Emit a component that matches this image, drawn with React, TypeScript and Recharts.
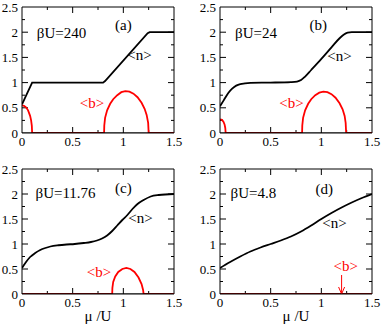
import React from 'react';
import { LineChart, Line, XAxis, YAxis, ReferenceLine, ReferenceDot } from 'recharts';

type Pt = [number, number];

const FONT = 'Liberation Serif';

const X_TICKS = [0, 0.5, 1, 1.5];
const X_MINOR = [0.25, 0.75, 1.25];
const Y_TICKS = [0, 0.5, 1, 1.5, 2, 2.5];
const Y_MINOR = [0.25, 0.75, 1.25, 1.75, 2.25];
const X_TITLE = 'μ /U';
const BASELINE: Pt[] = [[0, 0], [1.5, 0]];

// Panel (a): βU=240
const nA: Pt[] = [[0, 0.57], [0.1, 1.0], [0.8, 1.0], [0.82, 1.03], [1.24, 1.98], [1.26, 2.0], [1.5, 2.0]];
const bA: Pt[] = [
  [0, 0.55], [0.02, 0.54], [0.04, 0.51], [0.06, 0.45], [0.08, 0.34], [0.09, 0.25], [0.097, 0.14], [0.1, 0],
  [0.81, 0], [0.812, 0.15], [0.82, 0.3], [0.84, 0.45], [0.87, 0.58], [0.9, 0.67], [0.94, 0.75], [0.98, 0.81],
  [1.02, 0.83], [1.06, 0.82], [1.1, 0.78], [1.14, 0.71], [1.18, 0.6], [1.21, 0.48], [1.23, 0.36], [1.245, 0.2],
  [1.25, 0], [1.5, 0],
];

// Panel (b): βU=24
const nB: Pt[] = [
  [0, 0.53], [0.04, 0.66], [0.08, 0.79], [0.12, 0.88], [0.16, 0.94], [0.2, 0.97], [0.3, 0.995], [0.5, 1.0],
  [0.7, 1.01], [0.76, 1.02], [0.8, 1.05], [0.84, 1.12], [0.9, 1.25], [1.0, 1.47], [1.1, 1.7], [1.18, 1.88],
  [1.22, 1.95], [1.26, 1.99], [1.3, 2.0], [1.5, 2.0],
];
const bB: Pt[] = [
  [0, 0.27], [0.02, 0.26], [0.035, 0.22], [0.045, 0.17], [0.052, 0.1], [0.056, 0],
  [0.81, 0], [0.812, 0.15], [0.82, 0.3], [0.84, 0.45], [0.87, 0.58], [0.9, 0.67], [0.94, 0.75], [0.98, 0.8],
  [1.02, 0.82], [1.06, 0.81], [1.1, 0.77], [1.14, 0.7], [1.18, 0.59], [1.21, 0.47], [1.23, 0.34], [1.24, 0.2],
  [1.245, 0], [1.5, 0],
];

// Panel (c): βU=11.76
const nC: Pt[] = [
  [0, 0.52], [0.04, 0.64], [0.08, 0.74], [0.13, 0.82], [0.18, 0.88], [0.23, 0.92], [0.28, 0.95], [0.36, 0.975],
  [0.44, 0.99], [0.52, 1.0], [0.61, 1.02], [0.68, 1.04], [0.74, 1.07], [0.79, 1.11], [0.84, 1.17], [0.89, 1.26],
  [0.94, 1.37], [0.99, 1.48], [1.04, 1.58], [1.09, 1.7], [1.14, 1.8], [1.2, 1.88], [1.27, 1.95], [1.35, 1.98],
  [1.5, 2.0],
];
const bC: Pt[] = [
  [0, 0], [0.89, 0], [0.892, 0.12], [0.9, 0.24], [0.92, 0.35], [0.95, 0.44], [0.99, 0.5], [1.03, 0.52],
  [1.07, 0.5], [1.11, 0.44], [1.15, 0.33], [1.18, 0.2], [1.195, 0.08], [1.2, 0], [1.5, 0],
];

// Panel (d): βU=4.8
const nD: Pt[] = [
  [0, 0.52], [0.1, 0.64], [0.2, 0.75], [0.3, 0.85], [0.4, 0.93], [0.5, 1.0], [0.6, 1.07], [0.7, 1.15],
  [0.8, 1.25], [0.9, 1.37], [1.0, 1.5], [1.1, 1.62], [1.2, 1.73], [1.3, 1.83], [1.4, 1.92], [1.5, 2.0],
];
const bD: Pt[] = [[0, 0], [1.5, 0]];
const arrowD = { mu: 1.2, from: 0.38, to: 0.0 };

type Note = { text: string; mu: number; v: number; color: string };

const notesA: Note[] = [
  { text: 'βU=240', mu: 0.39, v: 2.0, color: '#000' },
  { text: '(a)', mu: 1.0, v: 2.14, color: '#000' },
  { text: '<n>', mu: 1.16, v: 1.55, color: '#000' },
  { text: '<b>', mu: 0.69, v: 0.6, color: '#ff0000' },
];
const notesB: Note[] = [
  { text: 'βU=24', mu: 0.355, v: 2.0, color: '#000' },
  { text: '(b)', mu: 0.97, v: 2.14, color: '#000' },
  { text: '<n>', mu: 1.18, v: 1.53, color: '#000' },
  { text: '<b>', mu: 0.705, v: 0.6, color: '#ff0000' },
];
const notesC: Note[] = [
  { text: 'βU=11.76', mu: 0.43, v: 2.02, color: '#000' },
  { text: '(c)', mu: 1.0, v: 2.12, color: '#000' },
  { text: '<n>', mu: 1.17, v: 1.52, color: '#000' },
  { text: '<b>', mu: 0.76, v: 0.44, color: '#ff0000' },
];
const notesD: Note[] = [
  { text: 'βU=4.8', mu: 0.33, v: 2.02, color: '#000' },
  { text: '(d)', mu: 1.03, v: 2.1, color: '#000' },
  { text: '<n>', mu: 1.13, v: 1.42, color: '#000' },
  { text: '<b>', mu: 1.24, v: 0.56, color: '#ff0000' },
];

const toObj = (pts: Pt[]) => pts.map(([x, y]) => ({ x, y }));

const ArrowShape = (p: any) => {
  const { x1, y1, x2, y2 } = p;
  return (
    <g>
      <line x1={x1} y1={y1} x2={x2} y2={y2} stroke="#ff0000" strokeWidth={1} />
      <path d={`M${x2 - 3},${y2 - 7} L${x2},${y2} L${x2 + 3},${y2 - 7}`} stroke="#ff0000" strokeWidth={1} fill="none" />
    </g>
  );
};

const XTick = (p: any) => (
  <text x={p.x} y={p.y} dy="0.71em" textAnchor="middle" fill="#000" fontSize={13} style={{ fontFamily: FONT }}>
    {p.payload.value}
  </text>
);
const YTick = (p: any) => (
  <text x={p.x} y={p.y} dy="0.355em" textAnchor="end" fill="#000" fontSize={13} style={{ fontFamily: FONT }}>
    {p.payload.value}
  </text>
);

const noteContent = (nt: Note) => (p: any) => {
  const vb = p.viewBox || {};
  const cx = vb.x + (vb.width || 0) / 2;
  const cy = vb.y + (vb.height || 0) / 2;
  return (
    <text x={cx} y={cy} dy="0.355em" textAnchor="middle" fill={nt.color} fontSize={15} style={{ fontFamily: FONT }}>
      {nt.text}
    </text>
  );
};

const TitleContent = (p: any) => {
  const vb = p.viewBox || {};
  return (
    <text x={vb.x + vb.width / 2} y={vb.y + vb.height - 6} textAnchor="middle" fill="#000" fontSize={15} style={{ fontFamily: FONT }}>
      {X_TITLE}
    </text>
  );
};

type PanelProps = {
  left: number; top: number; width: number; height: number;
  yw: number; mt: number; mr: number; xh: number;
  n: Pt[]; b: Pt[]; notes: Note[]; title?: boolean; arrow?: typeof arrowD; nType?: 'linear' | 'monotone';
};

const Panel = ({ left, top, width, height, yw, mt, mr, xh, n, b, notes, title, arrow, nType = 'monotone' }: PanelProps) => {
  const plotW = width - yw - mr;
  const plotH = height - mt - xh;
  const xPer = plotW / 1.5;
  const yPer = plotH / 2.5;
  const majX = 6 / yPer, minX = 3 / yPer;
  const majY = 6 / xPer, minY = 3 / xPer;
  const segs: { s: { x: number; y: number }[] }[] = [];
  X_TICKS.slice(1, -1).forEach(t => {
    segs.push({ s: [{ x: t, y: 0 }, { x: t, y: majX }] });
    segs.push({ s: [{ x: t, y: 2.5 }, { x: t, y: 2.5 - majX }] });
  });
  X_MINOR.forEach(t => {
    segs.push({ s: [{ x: t, y: 0 }, { x: t, y: minX }] });
    segs.push({ s: [{ x: t, y: 2.5 }, { x: t, y: 2.5 - minX }] });
  });
  Y_TICKS.slice(1, -1).forEach(t => {
    segs.push({ s: [{ x: 0, y: t }, { x: majY, y: t }] });
    segs.push({ s: [{ x: 1.5, y: t }, { x: 1.5 - majY, y: t }] });
  });
  Y_MINOR.forEach(t => {
    segs.push({ s: [{ x: 0, y: t }, { x: minY, y: t }] });
    segs.push({ s: [{ x: 1.5, y: t }, { x: 1.5 - minY, y: t }] });
  });
  return (
    <div style={{ position: 'absolute', left, top, width, height, fontFamily: FONT }}>
      <LineChart width={width} height={height} margin={{ top: mt, right: mr, bottom: 0, left: 0 }}>
        <XAxis
          type="number" dataKey="x" domain={[0, 1.5]} ticks={X_TICKS} allowDataOverflow
          tickLine={false} tickSize={0} tickMargin={4} height={xh} interval={0}
          axisLine={{ stroke: '#000', strokeWidth: 1 }} tick={<XTick />}
          label={title ? { content: TitleContent } : undefined}
        />
        <YAxis
          type="number" dataKey="y" domain={[0, 2.5]} ticks={Y_TICKS} allowDataOverflow
          tickLine={false} tickSize={0} tickMargin={4} width={yw} interval={0}
          axisLine={{ stroke: '#000', strokeWidth: 1 }} tick={<YTick />}
        />
        <ReferenceLine y={2.5} stroke="#000" strokeWidth={1} ifOverflow="visible" />
        <ReferenceLine x={1.5} stroke="#000" strokeWidth={1} ifOverflow="visible" />
        {segs.map((g, i) => (
          <ReferenceLine key={i} segment={g.s as any} stroke="#000" strokeWidth={1} ifOverflow="visible" />
        ))}
        <Line data={toObj(n)} dataKey="y" type={nType} stroke="#000" strokeWidth={1.8} dot={false} isAnimationActive={false} />
        <Line data={toObj(b)} dataKey="y" type="linear" stroke="#ff0000" strokeWidth={1.8} dot={false} isAnimationActive={false} />
        <Line data={toObj(BASELINE)} dataKey="y" type="linear" stroke="#000" strokeWidth={1} dot={false} isAnimationActive={false} />
        {arrow && (
          <ReferenceLine
            segment={[{ x: arrow.mu, y: arrow.from }, { x: arrow.mu, y: arrow.to }] as any}
            ifOverflow="visible" shape={ArrowShape}
          />
        )}
        {notes.map((nt, i) => (
          <ReferenceDot
            key={'n' + i} x={nt.mu} y={nt.v} r={0} fill="none" stroke="none" ifOverflow="visible"
            label={{ content: noteContent(nt) }}
          />
        ))}
      </LineChart>
    </div>
  );
};

export default function App() {
  return (
    <div style={{ position: 'absolute', left: 0, top: 0, width: 382, height: 327, background: '#fff', fontFamily: FONT }}>
      <Panel left={0} top={0} width={190} height={160} yw={22} mt={7} mr={16} xh={27} n={nA} b={bA} notes={notesA} nType="linear" />
      <Panel left={190} top={0} width={192} height={160} yw={30} mt={7} mr={10} xh={27} n={nB} b={bB} notes={notesB} />
      <Panel left={0} top={160} width={190} height={167} yw={22} mt={9} mr={16} xh={33} n={nC} b={bC} notes={notesC} title />
      <Panel left={190} top={160} width={192} height={167} yw={30} mt={9} mr={10} xh={33} n={nD} b={bD} notes={notesD} title arrow={arrowD} />
    </div>
  );
}
